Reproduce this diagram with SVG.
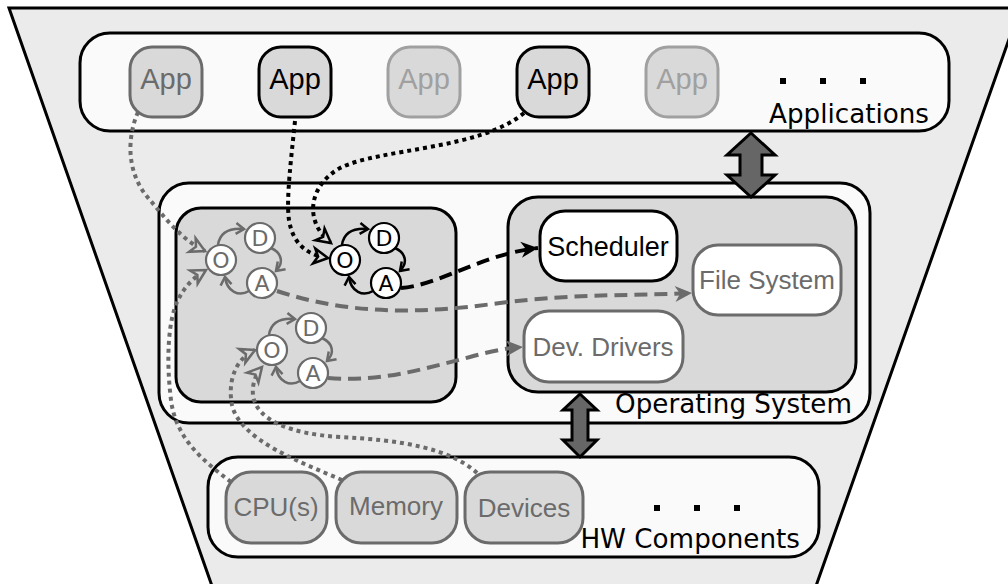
<svg xmlns="http://www.w3.org/2000/svg" width="1008" height="584" viewBox="0 0 1008 584">
  <style>
    .frame { fill: #ebebeb; stroke: #000; stroke-width: 3; }
    .layer { fill: #fafafa; stroke: #000; stroke-width: 3; }
    .inner { fill: #d9d9d9; stroke: #000; stroke-width: 3; }
    .app { fill: #d9d9d9; stroke-width: 3; }
    .svc { fill: #fff; stroke-width: 3; }
    .dark { stroke: #000; }
    .mid { stroke: #6b6b6b; }
    .light { stroke: #a0a0a0; }
    .t-dark { fill: #000; }
    .t-mid { fill: #6b6b6b; }
    .t-light { fill: #a0a0a0; }
    .sans { font-family: "Liberation Sans", Arial, sans-serif; text-anchor: middle; }
    .lbl { font-family: "DejaVu Sans", Verdana, sans-serif; font-size: 26.2px; text-anchor: end; fill: #000; }
    .oda { font-family: "DejaVu Sans", Verdana, sans-serif; font-size: 22px; text-anchor: middle; }
    .node { fill: #fff; stroke-width: 2.2; }
    .cyc { fill: none; stroke-width: 2.5; }
    .dot { fill: none; stroke-width: 4; stroke-dasharray: 4 4; }
    .dash { fill: none; stroke-width: 4; stroke-dasharray: 13 7; }
    .bus { fill: #666; stroke: #000; stroke-width: 3; stroke-linejoin: miter; }
    marker { overflow: visible; }
  </style>
  <defs>
    <marker id="cyc-mid" viewBox="-10 -8 12 16" markerWidth="12" markerHeight="16" refX="0" refY="0" orient="auto" markerUnits="userSpaceOnUse">
      <path d="M-8,-5.5 L0,0 L-8,5.5" fill="none" stroke="#6b6b6b" stroke-width="2.5"/>
    </marker>
    <marker id="cyc-dark" viewBox="-10 -8 12 16" markerWidth="12" markerHeight="16" refX="0" refY="0" orient="auto" markerUnits="userSpaceOnUse">
      <path d="M-8,-5.5 L0,0 L-8,5.5" fill="none" stroke="#000" stroke-width="2.5"/>
    </marker>
    <marker id="open-mid" viewBox="-17 -10 19 20" markerWidth="19" markerHeight="20" refX="0" refY="0" orient="auto" markerUnits="userSpaceOnUse">
      <path d="M-14,-7.5 L0,0 L-14,7.5 L-10,0 z" fill="#d9d9d9" stroke="#6b6b6b" stroke-width="2.5" stroke-linejoin="miter"/>
    </marker>
    <marker id="open-dark" viewBox="-17 -10 19 20" markerWidth="19" markerHeight="20" refX="0" refY="0" orient="auto" markerUnits="userSpaceOnUse">
      <path d="M-14,-7.5 L0,0 L-14,7.5 L-10,0 z" fill="#d9d9d9" stroke="#000" stroke-width="2.5" stroke-linejoin="miter"/>
    </marker>
    <marker id="fill-mid" viewBox="-18 -10 20 20" markerWidth="20" markerHeight="20" refX="0" refY="0" orient="auto" markerUnits="userSpaceOnUse">
      <path d="M-17,-8 L0,0 L-17,8 L-12,0 z" fill="#6b6b6b"/>
    </marker>
    <marker id="fill-dark" viewBox="-18 -10 20 20" markerWidth="20" markerHeight="20" refX="0" refY="0" orient="auto" markerUnits="userSpaceOnUse">
      <path d="M-17,-8 L0,0 L-17,8 L-12,0 z" fill="#000"/>
    </marker>
    <!-- observe / decide / act loop, drawn around the O node at (0,0) -->
    <g id="loop-shape">
      <circle class="node" cx="0" cy="0" r="15"/>
      <circle class="node" cx="39" cy="-22" r="15"/>
      <circle class="node" cx="41" cy="23" r="15"/>
    </g>
  </defs>

  <!-- funnel background -->
  <polygon id="funnel" class="frame" points="9,8 1020,8 816,586 212,586"/>

  <!-- applications layer -->
  <g id="applications">
    <rect class="layer" x="80" y="33" width="869" height="98" rx="30"/>
    <rect x="780" y="78" width="6" height="6"/>
    <rect x="820" y="78" width="6" height="6"/>
    <rect x="860" y="78" width="6" height="6"/>
    <text class="lbl" x="929" y="123">Applications</text>
  </g>
  <g id="app1"><rect class="app mid" x="130" y="47" width="72" height="70" rx="22"/><text class="sans t-mid" x="166" y="89" font-size="29">App</text></g>
  <g id="app2"><rect class="app dark" x="259" y="47" width="72" height="70" rx="22"/><text class="sans t-dark" x="295" y="89" font-size="29">App</text></g>
  <g id="app3"><rect class="app light" x="388" y="47" width="72" height="70" rx="22"/><text class="sans t-light" x="424" y="89" font-size="29">App</text></g>
  <g id="app4"><rect class="app dark" x="517" y="47" width="72" height="70" rx="22"/><text class="sans t-dark" x="553" y="89" font-size="29">App</text></g>
  <g id="app5"><rect class="app light" x="646" y="47" width="72" height="70" rx="22"/><text class="sans t-light" x="682" y="89" font-size="29">App</text></g>

  <!-- operating system layer -->
  <g id="os">
    <rect class="layer" x="159" y="183" width="711" height="240" rx="30"/>
    <text class="lbl" x="852" y="413">Operating System</text>
  </g>
  <g id="tasks">
    <rect class="inner" x="176" y="208" width="280" height="194" rx="25"/>
  </g>
  <g id="kernel">
    <rect class="inner" x="508" y="197" width="348" height="195" rx="30"/>
  </g>
  <g id="scheduler"><rect class="svc dark" x="540" y="211" width="137" height="70" rx="25"/><text class="sans t-dark" x="608" y="256" font-size="27">Scheduler</text></g>
  <g id="file-system"><rect class="svc mid" x="693" y="245" width="148" height="70" rx="25"/><text class="sans t-mid" x="767" y="289" font-size="26">File System</text></g>
  <g id="dev-drivers"><rect class="svc mid" x="524" y="311" width="159" height="71" rx="25"/><text class="sans t-mid" x="603" y="356" font-size="26">Dev. Drivers</text></g>

  <!-- hardware layer -->
  <g id="hardware">
    <rect class="layer" x="208" y="457" width="611" height="100" rx="30"/>
    <rect x="654" y="505" width="6" height="6"/>
    <rect x="694" y="505" width="6" height="6"/>
    <rect x="734" y="505" width="6" height="6"/>
    <text class="lbl" x="800" y="548">HW Components</text>
  </g>
  <g id="cpu"><rect class="app mid" x="226" y="472" width="101" height="71" rx="25"/><text class="sans t-mid" x="276" y="516" font-size="26">CPU(s)</text></g>
  <g id="memory"><rect class="app mid" x="336" y="472" width="121" height="71" rx="25"/><text class="sans t-mid" x="396" y="515" font-size="26">Memory</text></g>
  <g id="devices"><rect class="app mid" x="465" y="472" width="118" height="71" rx="25"/><text class="sans t-mid" x="524" y="517" font-size="26">Devices</text></g>

  <!-- O/D/A loops -->
  <g id="loop1" transform="translate(221,260)">
    <g class="mid"><use href="#loop-shape"/></g>
    <path class="cyc mid" d="M-3,-15 C-1,-29 10,-32 23,-31" marker-end="url(#cyc-mid)"/>
    <path class="cyc mid" d="M50,-12 C61,-7 63,3 55,11" marker-end="url(#cyc-mid)"/>
    <path class="cyc mid" d="M28,31 C18,37 6,32 4,17" marker-end="url(#cyc-mid)"/>
    <text class="oda t-mid" x="0" y="8">O</text>
    <text class="oda t-mid" x="39" y="-14">D</text>
    <text class="oda t-mid" x="41" y="31">A</text>
  </g>
  <g id="loop2" transform="translate(345,260)">
    <g class="dark"><use href="#loop-shape"/></g>
    <path class="cyc dark" d="M-3,-15 C-1,-29 10,-32 23,-31" marker-end="url(#cyc-dark)"/>
    <path class="cyc dark" d="M50,-12 C61,-7 63,3 55,11" marker-end="url(#cyc-dark)"/>
    <path class="cyc dark" d="M28,31 C18,37 6,32 4,17" marker-end="url(#cyc-dark)"/>
    <text class="oda t-dark" x="0" y="8">O</text>
    <text class="oda t-dark" x="39" y="-14">D</text>
    <text class="oda t-dark" x="41" y="31">A</text>
  </g>
  <g id="loop3" transform="translate(272,350)">
    <g class="mid"><use href="#loop-shape"/></g>
    <path class="cyc mid" d="M-3,-15 C-1,-29 10,-32 23,-31" marker-end="url(#cyc-mid)"/>
    <path class="cyc mid" d="M50,-12 C61,-7 63,3 55,11" marker-end="url(#cyc-mid)"/>
    <path class="cyc mid" d="M28,31 C18,37 6,32 4,17" marker-end="url(#cyc-mid)"/>
    <text class="oda t-mid" x="0" y="8">O</text>
    <text class="oda t-mid" x="39" y="-14">D</text>
    <text class="oda t-mid" x="41" y="31">A</text>
  </g>

  <!-- layer interfaces -->
  <polygon id="bus-upper" class="bus" points="751,133 775,155 762,155 762,175 775,175 751,197 727,175 740,175 740,155 727,155"/>
  <polygon id="bus-lower" class="bus" points="580,394 597,410 588,410 588,440 597,440 580,457 563,440 572,440 572,410 563,410"/>

  <!-- connectors -->
  <g id="connectors">
    <path class="dot mid" d="M138,112 C126,140 127,175 150,200 C165,218 182,240 205,251" marker-end="url(#open-mid)"/>
    <path class="dot dark" d="M295,121 C291,160 286,200 289,220 C293,245 308,255 328,258" marker-end="url(#open-dark)"/>
    <path class="dot dark" d="M524,113 C480,150 380,148 340,168 C308,186 304,222 331,243" marker-end="url(#open-dark)"/>
    <path class="dot mid" d="M231,482 C205,462 176,440 171,400 C166,360 168,320 178,300 C185,286 194,277 206,270" marker-end="url(#open-mid)"/>
    <path class="dot mid" d="M342,480 C300,462 240,440 232,405 C228,385 233,360 255,350" marker-end="url(#open-mid)"/>
    <path class="dot mid" d="M477,473 C450,448 400,440 340,437 C290,434 256,420 253,395 C252,385 255,375 262,367" marker-end="url(#open-mid)"/>
    <path class="dash dark" d="M401,288 C440,285 482,254 538,248" marker-end="url(#fill-dark)"/>
    <path class="dash mid" d="M277,291 C350,315 420,314 500,303 C580,293 640,296 692,293" marker-end="url(#fill-mid)"/>
    <path class="dash mid" d="M328,378 C380,382 420,370 470,357 C495,350 510,348 523,347" marker-end="url(#fill-mid)"/>
  </g>
</svg>
